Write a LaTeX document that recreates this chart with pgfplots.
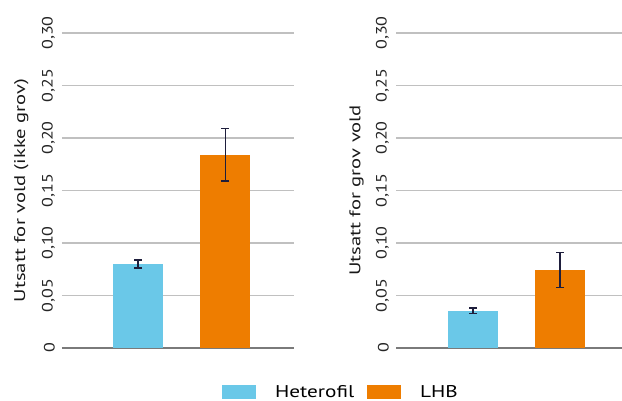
\documentclass[border=0pt]{standalone}
\usepackage{pgfplots}
\pgfplotsset{compat=1.18}
\usepackage{graphicx}
\usepackage{fontspec}
\setmainfont{PT Sans}
\definecolor{hblue}{HTML}{6AC8E8}
\definecolor{horange}{HTML}{EE7D00}
\definecolor{errc}{HTML}{1E1E3C}
\definecolor{gridc}{HTML}{C0C0C0}
\definecolor{axc}{HTML}{7A7A7A}
\newcommand\stx[1]{\scalebox{1.2}[1]{#1}}
\newcommand\stl[1]{\scalebox{1.33}[1]{#1}}
\newcommand\stg[1]{\scalebox{1.25}[1]{#1}}
\pgfplotsset{
  panel/.style={
    scale only axis, height=315pt,
    ymin=0, ymax=0.30,
    ytick={0,0.05,0.10,0.15,0.20,0.25,0.30},
    yticklabels={\stx{0},{\stx{0,05}},{\stx{0,10}},{\stx{0,15}},{\stx{0,20}},{\stx{0,25}},{\stx{0,30}}},
    ymajorgrids, grid style={gridc, line width=1.3pt},
    axis lines*=left,
    y axis line style={draw=none},
    x axis line style={axc, line width=1.3pt},
    major tick length=0pt,
    xtick=\empty,
    tick label style={font=\fontsize{15}{18}\selectfont, black!85},
    yticklabel style={rotate=90, anchor=south, inner sep=7pt},
    label style={font=\fontsize{15.5}{18}\selectfont, black!90},
    ylabel style={at={(axis description cs:-0.175,0.5)}, anchor=center},
    ybar, bar width=50pt, bar shift=0pt,
    error bars/error bar style={errc, line width=1.4pt},
    error bars/error mark options={errc, rotate=90, mark size=4pt, line width=1.4pt},
  }
}
\begin{document}
\begin{tikzpicture}
\useasboundingbox (0,0) rectangle (622pt,401pt);
\begin{axis}[panel, at={(62pt,53pt)}, anchor=south west, width=232pt,
  xmin=-0.874, xmax=1.79,
  ylabel={\stl{Utsatt for vold (ikke grov)}},
  legend columns=2,
  legend style={draw=none, fill=none, at={(axis description cs:1.2026,-0.1397)}, anchor=center,
    font=\fontsize{17}{19}\selectfont,
    nodes={inner ysep=1pt},
    /tikz/every odd column/.append style={column sep=17pt},
    /tikz/every even column/.append style={column sep=11pt}},
  legend image code/.code={\fill[#1, draw=none] (0pt,-7pt) rectangle (34pt,7pt);},
]
\addplot[fill=hblue, draw=none, error bars/.cd, y dir=both, y explicit]
  coordinates {(0,0.080) +- (0,0.0037)};
\addplot[fill=horange, draw=none, error bars/.cd, y dir=both, y explicit]
  coordinates {(1,0.184) +- (0,0.025)};
\legend{\stg{Heterofil}, \stg{LHB}}
\end{axis}
\begin{axis}[panel, at={(396pt,53pt)}, anchor=south west, width=226pt,
  xmin=-0.885, xmax=1.71,
  ylabel={\stl{Utsatt for grov vold}},
]
\addplot[fill=hblue, draw=none, error bars/.cd, y dir=both, y explicit]
  coordinates {(0,0.0355) +- (0,0.0027)};
\addplot[fill=horange, draw=none, error bars/.cd, y dir=both, y explicit]
  coordinates {(1,0.0743) +- (0,0.0165)};
\end{axis}
\end{tikzpicture}
\end{document}
